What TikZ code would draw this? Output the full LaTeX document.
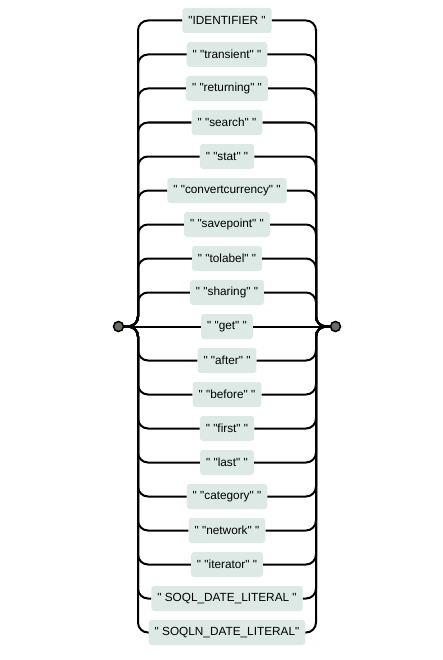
\documentclass[tikz,border=0pt]{standalone}
\usepackage{fontspec}
\newfontfamily\rrfont{Liberation Sans}
\definecolor{boxfill}{HTML}{DCE9E5}
\definecolor{dotfill}{HTML}{706B60}
\tikzset{
  term/.style={fill=boxfill, rounded corners=3bp, minimum height=25bp, inner xsep=6bp, inner ysep=0pt, font=\rrfont\fontsize{11.8bp}{14bp}\selectfont, text=black},
  rail/.style={line width=2bp, rounded corners=10bp},
  endpt/.style={circle, draw=black, line width=1.5bp, fill=dotfill, minimum size=10bp, inner sep=0pt}
}
\begin{document}
\begin{tikzpicture}[x=1bp,y=-1bp]
\useasboundingbox (0,0) rectangle (443,660);
\node[term] (r1) at (227,20.5) {"IDENTIFIER "};
\node[term] (r2) at (227,54.5) {" "transient" "};
\node[term] (r3) at (227,88.5) {" "returning" "};
\node[term] (r4) at (227,122.5) {" "search" "};
\node[term] (r5) at (227,156.5) {" "stat" "};
\node[term] (r6) at (227,190.5) {" "convertcurrency" "};
\node[term] (r7) at (227,224.5) {" "savepoint" "};
\node[term] (r8) at (227,258.5) {" "tolabel" "};
\node[term] (r9) at (227,292.5) {" "sharing" "};
\node[term] (r10) at (227,326.5) {" "get" "};
\node[term] (r11) at (227,360.5) {" "after" "};
\node[term] (r12) at (227,394.5) {" "before" "};
\node[term] (r13) at (227,428.5) {" "first" "};
\node[term] (r14) at (227,462.5) {" "last" "};
\node[term] (r15) at (227,496.5) {" "category" "};
\node[term] (r16) at (227,530.5) {" "network" "};
\node[term] (r17) at (227,564.5) {" "iterator" "};
\node[term] (r18) at (227,598.5) {" SOQL\_DATE\_LITERAL "};
\node[term] (r19) at (227,632.5) {" SOQLN\_DATE\_LITERAL"};
\node[endpt] (s) at (118.5,326.5) {};
\node[endpt] (e) at (335.5,326.5) {};
\coordinate (lr) at (138,326.5);
\coordinate (rr) at (316,326.5);
\draw[rail] (s.east) -- (lr) -- (r10.west);
\draw[rail] (r10.east) -- (rr) -- (e.west);
\foreach \i in {1,...,9,11,12,13,14,15,16,17,18,19}{
  \draw[rail] (s.east) -| (lr |- r\i.west) -- (r\i.west);
  \draw[rail] (r\i.east) -| (rr) -- (e.west);
}
\end{tikzpicture}
\end{document}
